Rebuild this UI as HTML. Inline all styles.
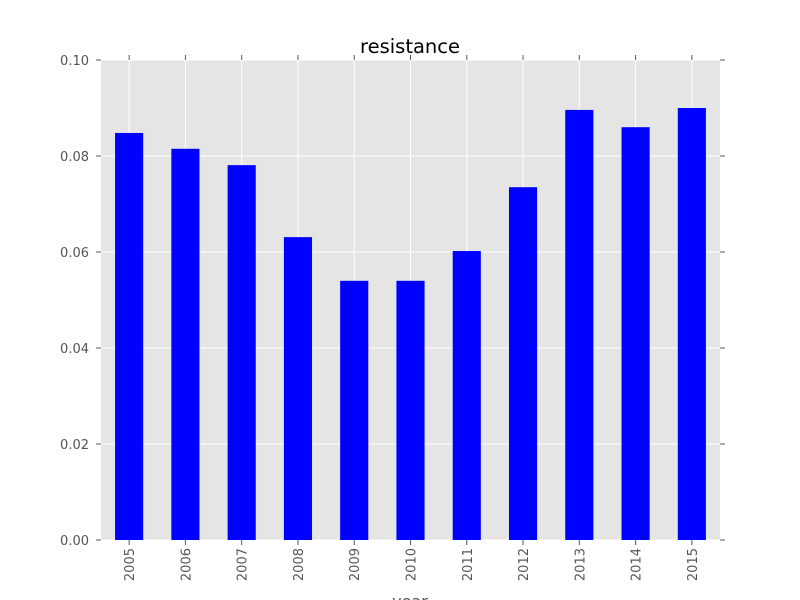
<!DOCTYPE html>
<html><head><meta charset="utf-8"><style>body{margin:0;background:#fff}svg{display:block}</style></head>
<body>
<svg id="chart" width="800" height="600" xmlns="http://www.w3.org/2000/svg" font-family="DejaVu Sans, Liberation Sans, sans-serif"></svg>
<script>
const categories = ['2005','2006','2007','2008','2009','2010','2011','2012','2013','2014','2015'];
const values = [0.0848,0.0815,0.0781,0.0631,0.0540,0.0540,0.0602,0.0735,0.0896,0.0860,0.0900];
const yTicks = [0,0.02,0.04,0.06,0.08,0.10];
const yTickLabels = ['0.00','0.02','0.04','0.06','0.08','0.10'];

const svg = document.getElementById('chart');
const NS = 'http://www.w3.org/2000/svg';
const L=101,R=720,T=60,B=540;
const xStep=(R-L)/categories.length;
const xc=i=>L+xStep*(i+0.5);
const y=v=>B-(v/0.1)*(B-T);
function mk(tag,attrs,parent){const e=document.createElementNS(NS,tag);for(const k in attrs)e.setAttribute(k,attrs[k]);(parent||svg).appendChild(e);return e;}

const bg=mk('rect',{x:L,y:T,width:R-L,height:B-T,fill:'#e5e5e5'});



yTicks.forEach((t,i)=>{
  const g=mk('line',{x1:L,x2:R,y1:y(t),y2:y(t),stroke:'#fff','stroke-width':1});
  
  
  mk('line',{x1:L-5,x2:L,y1:y(t),y2:y(t),stroke:'#555'});
  mk('line',{x1:R,x2:R+5,y1:y(t),y2:y(t),stroke:'#555'});
  const lb=mk('text',{x:L-12,y:y(t)+5,'text-anchor':'end','font-size':13,fill:'#555'});
  lb.textContent=yTickLabels[i];
  
  
});
categories.forEach((c,i)=>{
  const x=xc(i);
  const g=mk('line',{x1:x,x2:x,y1:T,y2:B,stroke:'#fff','stroke-width':1});
  
  
});
categories.forEach((c,i)=>{
  const x=xc(i), bw=xStep*0.5;
  const b=mk('rect',{x:x-bw/2,y:y(values[i]),width:bw,height:B-y(values[i]),fill:'#0000ff'});
  
  
  mk('line',{x1:x,x2:x,y1:B,y2:B+5,stroke:'#555'});
  mk('line',{x1:x,x2:x,y1:T-5,y2:T,stroke:'#555'});
  const lb=mk('text',{x:0,y:0,'text-anchor':'end','font-size':13,fill:'#555',transform:`translate(${x+5},${B+8}) rotate(-90)`});
  lb.textContent=c;
  
  
});
const title=mk('text',{x:410,y:53,'text-anchor':'middle','font-size':19.5,fill:'#000'});
title.textContent='resistance';


const xl=mk('text',{x:410,y:607,'text-anchor':'middle','font-size':16,fill:'#555'});
xl.textContent='year';


</script>
</body></html>
